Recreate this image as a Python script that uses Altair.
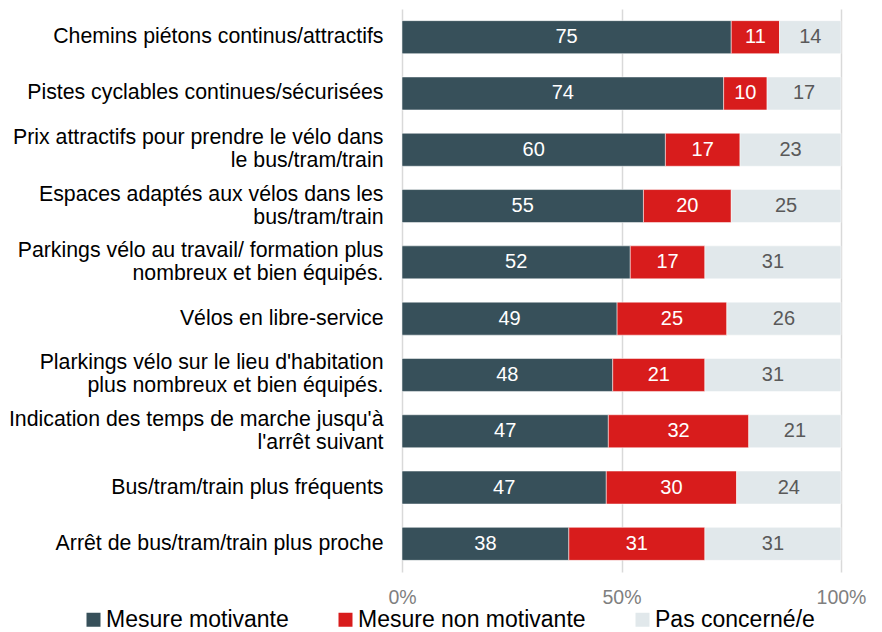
import altair as alt
import pandas as pd

categories = [
    "Chemins piétons continus/attractifs",
    "Pistes cyclables continues/sécurisées",
    "Prix attractifs pour prendre le vélo dans|le bus/tram/train",
    "Espaces adaptés aux vélos dans les|bus/tram/train",
    "Parkings vélo au travail/ formation plus|nombreux et bien équipés.",
    "Vélos en libre-service",
    "Plarkings vélo sur le lieu d'habitation|plus nombreux et bien équipés.",
    "Indication des temps de marche jusqu'à|l'arrêt suivant",
    "Bus/tram/train plus fréquents",
    "Arrêt de bus/tram/train plus proche",
]
series = ["Mesure motivante", "Mesure non motivante", "Pas concerné/e"]
motivante = [75, 74, 60, 55, 52, 49, 48, 47, 47, 38]
non_motivante = [11, 10, 17, 20, 17, 25, 21, 32, 30, 31]
pas_concerne = [14, 17, 23, 25, 31, 26, 31, 21, 24, 31]
colors = ["#37505a", "#d81c1c", "#e1e8eb"]

rows = []
for i, c in enumerate(categories):
    for j, (s, vals) in enumerate(zip(series, [motivante, non_motivante, pas_concerne])):
        rows.append({"cat": c, "series": s, "order": j, "value": vals[i]})
df = pd.DataFrame(rows)

FONT = "Liberation Sans"

base = alt.Chart(df).transform_stack(
    stack="value", groupby=["cat"], as_=["x0", "x1"], offset="normalize",
    sort=[alt.SortField("order", order="ascending")],
).transform_calculate(mid="(datum.x0 + datum.x1) / 2")

yenc = alt.Y(
    "cat:N", sort=categories, title=None,
    scale=alt.Scale(paddingInner=0.414, paddingOuter=0.207),
    axis=alt.Axis(
        labelExpr="split(datum.label, '|')", labelFont=FONT, labelFontSize=21.3,
        labelColor="#000000", labelPadding=19, labelLineHeight=23,
        labelOffset={"condition": {"test": "indexof(datum.value, '|') >= 0", "value": -11.5}, "value": 0},
        ticks=False, domain=False, labelLimit=400,
    ),
)

bars = base.mark_bar(stroke="white", strokeWidth=0.5).encode(
    y=yenc,
    x=alt.X(
        "x0:Q", title=None,
        scale=alt.Scale(domain=[0, 1], nice=False),
        axis=alt.Axis(
            values=[0, 0.5, 1], format="%", labelFont=FONT, labelFontSize=19.5,
            labelColor="#7f7f7f", labelPadding=16, ticks=False, domain=False,
            labelFlush=False,
            grid=True, gridColor="#d9d9d9", gridWidth=1.5,
        ),
    ),
    x2="x1:Q",
    color=alt.Color(
        "series:N",
        scale=alt.Scale(domain=series, range=colors),
        sort=series,
        legend=alt.Legend(
            title=None, orient="none", direction="horizontal",
            legendX=-320, legendY=599, padding=0,
            symbolType="square", symbolSize=196, symbolStrokeWidth=0,
            symbolOffset=0, labelOffset=1,
            labelFont=FONT, labelFontSize=23, labelColor="#000000",
            columnPadding=45, labelLimit=400,
        ),
    ),
)

texts = base.mark_text(font=FONT, fontSize=20, baseline="middle", align="center").encode(
    y=alt.Y("cat:N", sort=categories),
    x=alt.X("mid:Q"),
    text=alt.Text("value:Q"),
    color=alt.condition(
        alt.datum.series == "Pas concerné/e", alt.value("#595959"), alt.value("#ffffff")
    ),
)

chart = (
    alt.layer(bars, texts)
    .properties(
        width=439, height=563,
        autosize=alt.AutoSizeParams(type="none"),
        padding={"left": 402, "top": 9, "right": 41, "bottom": 60},
        background="white",
    )
    .configure_view(stroke=None)
)

chart.save("out.html", embed_options={"renderer": "svg", "actions": False})
